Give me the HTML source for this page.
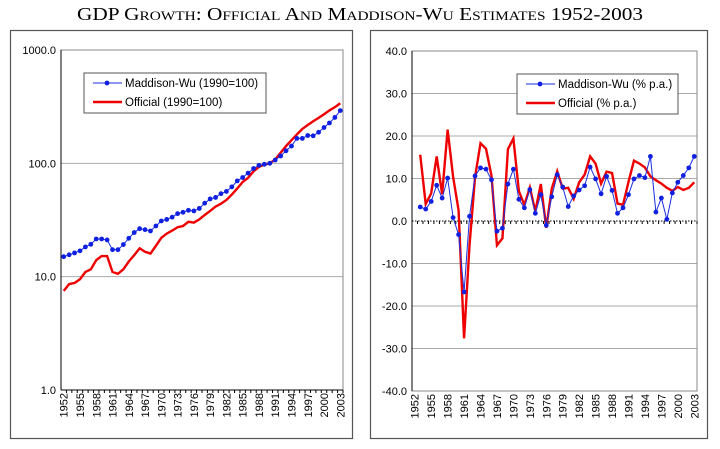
<!DOCTYPE html>
<html><head><meta charset="utf-8"><style>
body{margin:0;background:#fff;width:720px;height:444px;overflow:hidden}
svg text{font-family:"Liberation Sans",sans-serif}
</style></head><body>
<svg id="s" width="720" height="444" xmlns="http://www.w3.org/2000/svg">
<text x="360" y="20" text-anchor="middle" textLength="566" lengthAdjust="spacingAndGlyphs" style="font-family:'Liberation Serif',serif;font-variant:small-caps;font-size:18px">GDP Growth: Official And Maddison-Wu Estimates 1952-2003</text>
<rect x="10.5" y="30.5" width="342" height="408" fill="none" stroke="#555" stroke-width="1.2"/>
<rect x="370.5" y="30.5" width="337" height="408" fill="none" stroke="#555" stroke-width="1.2"/>
<g id="L"></g>
<g id="R"></g>
</svg>
<script>
const years=[];for(let y=1952;y<=2003;y++)years.push(y);
const mwLevel=[15,15.6,16.2,16.9,18.3,19.3,21.5,21.5,21.1,17.3,17.3,19.2,21.8,24.5,26.5,26,25.3,28,31,32,33.5,36,37,38.5,38,40,44.5,48.5,50,54,56.5,62,70,75,82,90,96,98,100,107,116,129,142,166,166,176,175,188,207,227,254,292];
const offLevel=[7.5,8.6,8.8,9.5,11,11.6,14,15.2,15.2,11,10.6,11.6,13.6,15.5,17.8,16.6,16,18.7,22,24,25.5,27.3,28,30.5,30,32,35,38,41.5,44,47.5,53,60,68.5,74.5,85,93,97.5,100,108,124,142,160,180,201,218,235,252,271,293,313,339];
const mwGrowth=[null,3.3,2.8,4.6,8.4,5.4,10.1,0.8,-3.2,-16.7,1.1,10.6,12.5,12.2,9.7,-2.4,-1.7,8.7,12.2,5.1,3.1,7.4,1.8,6.2,-1.0,5.7,10.9,8,3.4,5.9,7.3,8.3,12.7,9.9,6.4,10.5,7.2,1.8,3.1,6.2,9.9,10.7,10.2,15.2,2.1,5.4,0.4,6.6,9.1,10.7,12.5,15.2];
const offGrowth=[null,15.6,4.0,6.5,15.2,6.3,21.5,10.4,2.5,-27.6,-5.6,10.3,18.3,17,10.7,-5.7,-4.1,16.9,19.4,7,3.8,7.9,2.3,8.7,-1.6,7.6,11.7,7.6,7.8,5.2,9.1,10.9,15.2,13.5,8.8,11.6,11.3,4.1,3.8,9.2,14.2,13.5,12.6,10.5,9.6,8.8,7.8,7.1,8.0,7.3,7.8,9.1];
const logTicks=[1,10,100,1000];
const linTicks=[-40,-30,-20,-10,0,10,20,30,40];
const NS="http://www.w3.org/2000/svg";
function el(p,t,a,txt){const e=document.createElementNS(NS,t);for(const k in a)e.setAttribute(k,a[k]);if(txt!=null)e.textContent=txt;p.appendChild(e);return e;}
function chart(g,x0,x1,y0,y1,yf,ticks,fmt,s1,s2,leg,labels,zeroLine){
  const n=years.length,step=(x1-x0)/n;
  const xf=i=>x0+step*(i+0.5);
  ticks.forEach(t=>{const y=yf(t);
    if(t!==ticks[0]&&t!==ticks[ticks.length-1]&&!(zeroLine&&t===0)){const gl=el(g,'line',{x1:x0,x2:x1,y1:y,y2:y,stroke:'#aaa','stroke-width':1});
    
    }
    const tl=el(g,'text',{x:x0-5,y:y+4,'text-anchor':'end','font-size':11},fmt(t));
    
    
  });
  el(g,'rect',{x:x0,y:y0,width:x1-x0,height:y1-y0,fill:'none',stroke:'#888'});
  el(g,'line',{x1:x0,x2:x0,y1:y0,y2:y1,stroke:'#000'});
  const ay=zeroLine?yf(0):y1;
  const ax=el(g,'line',{x1:x0,x2:x1,y1:ay,y2:ay,stroke:'#000','stroke-dasharray':zeroLine?'1.5,1.5':'none'});
  
  
  years.forEach((yr,i)=>{el(g,'line',{x1:x0+step*(i+1),x2:x0+step*(i+1),y1:ay,y2:ay+3,stroke:'#000'});
    if(i%3===0){const xl=el(g,'text',{transform:`translate(${xf(i)+4},${y1+3}) rotate(-90)`,'text-anchor':'end','font-size':11},String(yr));
    
    }
  });
  const pts=a=>a.map((v,i)=>v==null?null:[xf(i),yf(v)]).filter(p=>p);
  const rp=el(g,'polyline',{points:pts(s2).map(p=>p.join(',')).join(' '),fill:'none',stroke:'#e00','stroke-width':2.4});
  
  
  const bp=pts(s1);
  const bl=el(g,'polyline',{points:bp.map(p=>p.join(',')).join(' '),fill:'none',stroke:'#1a2ee0','stroke-width':1});
  
  
  bp.forEach(p=>{const c=el(g,'circle',{cx:p[0],cy:p[1],r:2.4,fill:'#1020e0'});
    
    });
  const lg=el(g,'g',{});
  
  
  el(lg,'rect',{x:leg[0],y:leg[1],width:leg[2],height:40,fill:'#fff',stroke:'#555'});
  el(lg,'line',{x1:leg[0]+9,x2:leg[0]+38,y1:leg[1]+10,y2:leg[1]+10,stroke:'#1a2ee0'});
  el(lg,'circle',{cx:leg[0]+23,cy:leg[1]+10,r:2.4,fill:'#1020e0'});
  el(lg,'line',{x1:leg[0]+9,x2:leg[0]+38,y1:leg[1]+29,y2:leg[1]+29,stroke:'#e00','stroke-width':2.4});
  const t1=el(lg,'text',{x:leg[0]+41,y:leg[1]+14,'font-size':11.5},labels[0]);
  
  
  const t2=el(lg,'text',{x:leg[0]+41,y:leg[1]+33,'font-size':11.5},labels[1]);
  
  
}
const Ly0=50,Ly1=390;
chart(document.getElementById('L'),61,343,Ly0,Ly1,v=>Ly1-(Math.log10(v))*(Ly1-Ly0)/3,logTicks,t=>t.toFixed(1),mwLevel,offLevel,[84,73,182],['Maddison-Wu (1990=100)','Official (1990=100)'],false);
const Ry0=51,Ry1=391;
chart(document.getElementById('R'),412,697,Ry0,Ry1,v=>Ry0+(40-v)*(Ry1-Ry0)/80,linTicks,t=>t.toFixed(1),mwGrowth,offGrowth,[517,74,161],['Maddison-Wu (% p.a.)','Official (% p.a.)'],true);
</script>
</body></html>
